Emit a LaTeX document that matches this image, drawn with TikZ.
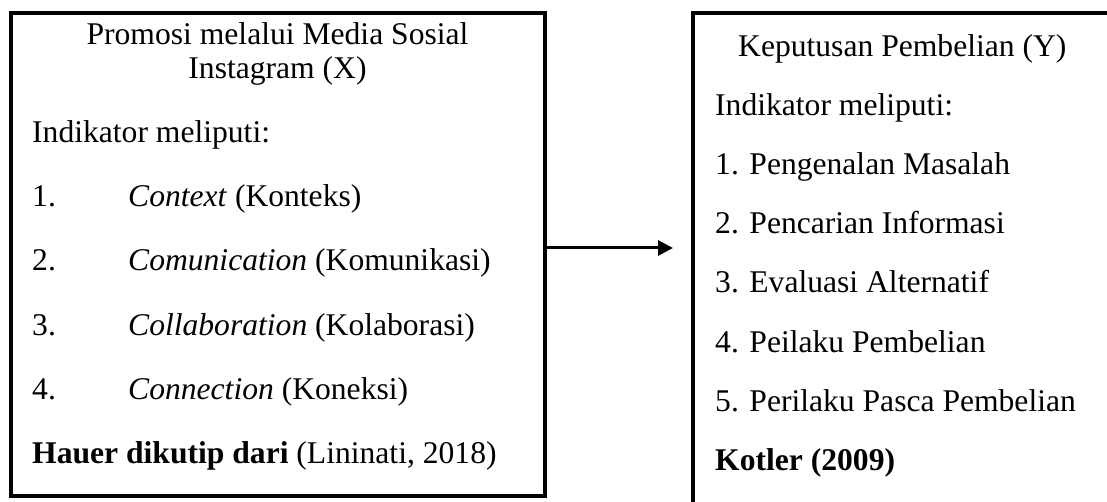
\documentclass[tikz,border=0pt]{standalone}
\usepackage{fontspec}
\setmainfont{Liberation Serif}
\usetikzlibrary{arrows.meta}
\begin{document}
\begin{tikzpicture}[x=1pt,y=-1pt,
  frame/.style={draw=black, line width=4pt, inner sep=0pt, outer sep=0pt, anchor=north west},
  txt/.style={anchor=base west, inner sep=0pt, font=\fontsize{31.6}{38}\selectfont},
  ctxt/.style={anchor=base, inner sep=0pt, font=\fontsize{31.6}{38}\selectfont},
  conn/.style={line width=3pt, -{Triangle[length=15pt,width=15pt]}}]
\useasboundingbox (0,0) rectangle (1107,502);
\clip (0,0) rectangle (1107,502);
\fill[white] (0,0) rectangle (1107,502);
% boxes
\node[frame, minimum width=534pt, minimum height=483pt] (L) at (10.5,13) {};
\node[frame, minimum width=480pt, minimum height=520pt] (R) at (692.5,13) {};
% left texts
\node[ctxt] (l1) at (277.5,45) {Promosi melalui Media Sosial};
\node[ctxt] (l2) at (277.5,79) {Instagram (X)};
\node[txt] (l3) at (32,143) {Indikator meliputi:};
\node[txt] (n1) at (32,207) {1.};
\node[txt] (i1) at (128,207) {\textit{Context} (Konteks)};
\node[txt] (n2) at (32,271) {2.};
\node[txt] (i2) at (128,271) {\textit{Comunication} (Komunikasi)};
\node[txt] (n3) at (32,335) {3.};
\node[txt] (i3) at (128,335) {\textit{Collaboration} (Kolaborasi)};
\node[txt] (n4) at (32,399) {4.};
\node[txt] (i4) at (128,399) {\textit{Connection} (Koneksi)};
\node[txt] (l9) at (32,463) {\textbf{Hauer dikutip dari} (Lininati, 2018)};
% right texts
\node[txt] (r1) at (738,57) {Keputusan Pembelian (Y)};
\node[txt] (r2) at (715,116) {Indikator meliputi:};
\node[txt] (r3) at (715,175) {1. Pengenalan Masalah};
\node[txt] (r4) at (715,234) {2. Pencarian Informasi};
\node[txt] (r5) at (715,293) {3. Evaluasi Alternatif};
\node[txt] (r6) at (715,352) {4. Peilaku Pembelian};
\node[txt] (r7) at (715,411) {5. Perilaku Pasca Pembelian};
\node[txt] (r8) at (715,470) {\textbf{Kotler (2009)}};
% arrow
\coordinate (a1) at (L.east |- 0,248);
\coordinate (a2) at (673,248);
\draw[conn] (a1) -- (a2);
\end{tikzpicture}
\end{document}
